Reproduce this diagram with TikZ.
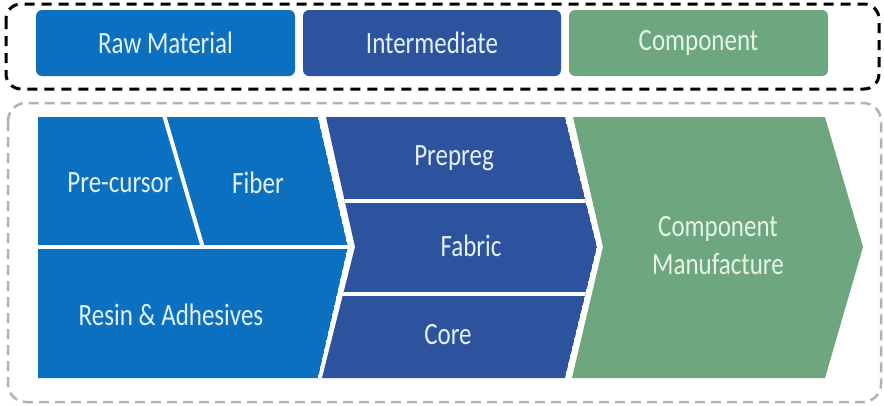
\documentclass[tikz,border=0pt]{standalone}
\usepackage{fontspec}
\setmainfont{Carlito}
\usepackage{graphicx}
\definecolor{rawblue}{HTML}{0B70C0}
\definecolor{midblue}{HTML}{2E539E}
\definecolor{compgreen}{HTML}{6DA67F}
\definecolor{txtblue}{HTML}{E4F1FB}
\definecolor{txtgreen}{HTML}{E6F4E6}
\newcommand{\tallt}[1]{\scalebox{1}[1.24]{#1}}
\tikzset{
  topbox/.style={rectangle, rounded corners=6pt, minimum width=259pt, minimum height=66pt, inner sep=0pt, text=txtblue, font=\fontsize{25}{30}\selectfont},
  lbl/.style={inner sep=0pt, text=txtblue, font=\fontsize{25}{30}\selectfont, align=center},
  sep/.style={white, line width=4pt},
}
\begin{document}
\begin{tikzpicture}[x=1pt,y=-1pt]
\useasboundingbox (0,0) rectangle (884,405);
% outer frames
\draw[black, line width=3pt, dash pattern=on 10pt off 7pt, rounded corners=15pt] (6,4) rectangle (879,89);
\draw[gray!60, line width=2.5pt, dash pattern=on 10pt off 6pt, rounded corners=18pt] (8,103) rectangle (881,402);
% top row
\node[topbox, fill=rawblue] (raw) at (165.5,43) {\tallt{Raw Material}};
\node[topbox, fill=midblue, minimum width=258pt] (inter) at (432,43) {\tallt{Intermediate}};
\node[topbox, fill=compgreen, text=txtgreen] (comp) at (698.5,43) {\tallt{Component}};
% raw material chevron
\begin{scope}
\clip (38,117) -- (318,117) -- (348,247) -- (318,378) -- (38,378) -- cycle;
\fill[rawblue] (38,117) -- (318,117) -- (348,247) -- (318,378) -- (38,378) -- cycle;
\draw[sep] (36,247) -- (350,247);
\draw[sep] (164,115) -- (203,248);
\end{scope}
% intermediate chevron
\begin{scope}
\clip (326,117) -- (565,117) -- (597,247) -- (565,378) -- (322,378) -- (355,247) -- cycle;
\fill[midblue] (326,117) -- (565,117) -- (597,247) -- (565,378) -- (322,378) -- (355,247) -- cycle;
\draw[sep] (320,201) -- (600,201);
\draw[sep] (320,294) -- (600,294);
\end{scope}
% component chevron
\fill[compgreen] (573,117) -- (825,117) -- (863,247) -- (825,378) -- (572,378) -- (603,247) -- cycle;
% labels
\node[lbl] (pre) at (120,183) {\tallt{Pre-cursor}};
\node[lbl] (fib) at (258,183) {\tallt{Fiber}};
\node[lbl] (res) at (171,315) {\tallt{Resin \& Adhesives}};
\node[lbl] (prep) at (454,158) {\tallt{Prepreg}};
\node[lbl] (fab) at (471,246) {\tallt{Fabric}};
\node[lbl] (core) at (448,335) {\tallt{Core}};
\node[lbl, text=txtgreen] (cm) at (718,248) {\tallt{\begin{tabular}{@{}c@{}}Component\\Manufacture\end{tabular}}};
\end{tikzpicture}
\end{document}
